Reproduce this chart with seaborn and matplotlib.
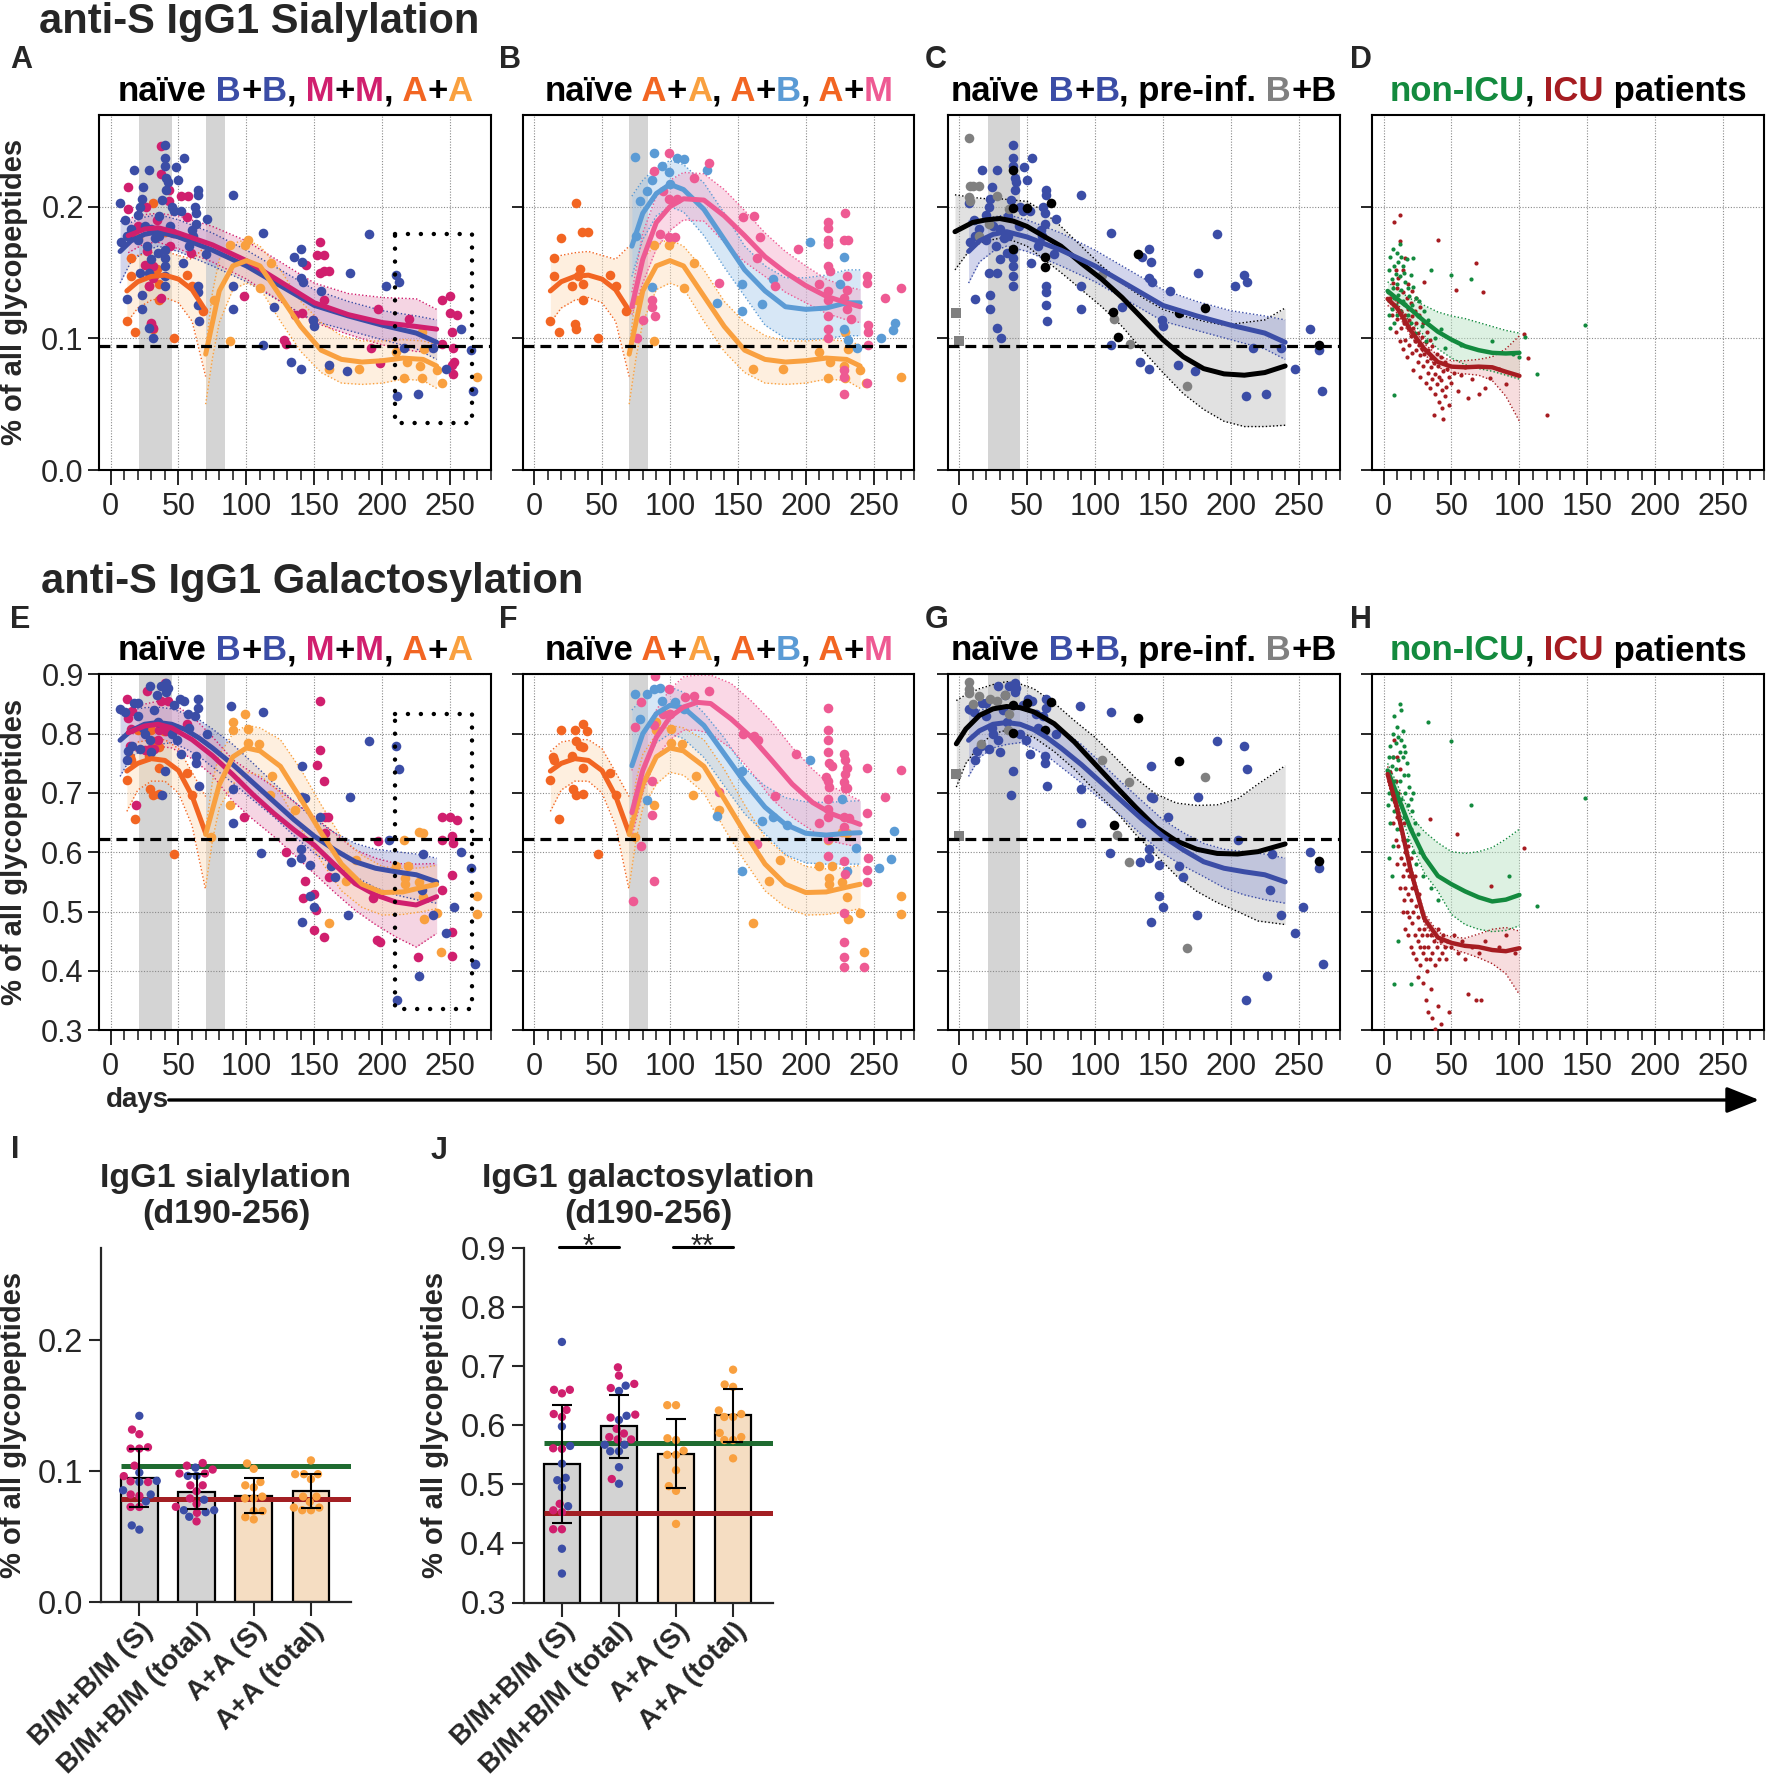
import matplotlib
matplotlib.use("Agg")
import matplotlib.pyplot as plt
import seaborn as sns
import pandas as pd
from matplotlib.offsetbox import TextArea, HPacker, AnnotationBbox
from matplotlib.patches import FancyArrowPatch
from matplotlib.ticker import MultipleLocator

# ---------------- data ----------------
DAY_TICKS = [0, 50, 100, 150, 200, 250]
SIA_TICKS = [0.0, 0.1, 0.2]
GAL_TICKS = [0.3, 0.4, 0.5, 0.6, 0.7, 0.8, 0.9]
SIA_REF = 0.094
GAL_REF = 0.6226
SHADE_AB = [(21, 45), (70, 84)]
SHADE_B = [(70, 84)]
SHADE_C = [(21, 45)]
BOX_DAYS = (209, 266)
BOX_SIA = (0.036, 0.179)
BOX_GAL = (0.336, 0.833)

# sialylation scatter (day, value)
SIA_BB = [(7, .203), (17, .228), (28, .228), (24, .215), (23, .206), (22, .2), (20, .194), (11, .19), (12, .178),
          (12, .13), (23, .133), (23, .122), (28, .108), (31, .1), (28, .15), (22, .15), (40, .247), (40, .237),
          (40, .231), (41, .222), (41, .213), (42, .219), (48, .23), (54, .237), (50, .22), (47, .197), (52, .197),
          (64, .213), (64, .209), (71, .191), (63, .195), (63, .187), (61, .178), (53, .157), (70, .164), (40, .167),
          (40, .161), (40, .155), (40, .147), (40, .14), (36, .178), (36, .193), (90, .209), (112, .18), (90, .122),
          (65, .113), (90, .14), (135, .162), (140, .168), (141, .158), (140, .146), (142, .143), (155, .136),
          (176, .15), (190, .179), (203, .14), (210, .148), (212, .143), (120, .124), (133, .082), (140, .077),
          (149, .114), (150, .109), (161, .08), (174, .075), (112, .095), (211, .056), (226, .058), (237, .093),
          (247, .077), (258, .107), (265, .091), (267, .06), (216, .093), (25, .185), (30, .183), (33, .176),
          (27, .17), (35, .165), (30, .16), (45, .2), (38, .205), (44, .185), (62, .2), (60, .182), (58, .17),
          (64, .14), (64, .135), (64, .125), (15, .183), (8, .173), (20, .175)]
SIA_MM = [(37, .246), (37, .225), (13, .215), (13, .198), (26, .2), (43, .213), (43, .204), (52, .208), (57, .208),
          (56, .192), (15, .18), (27, .166), (25, .156), (29, .156), (31, .155), (31, .146), (28, .14), (37, .131),
          (30, .112), (31, .108), (44, .17), (59, .165), (98, .132), (128, .099), (129, .096), (136, .118),
          (141, .119), (152, .163), (157, .163), (154, .173), (144, .156), (154, .15), (157, .151), (161, .151),
          (157, .129), (149, .114), (197, .122), (220, .115), (192, .093), (198, .081), (244, .129), (250, .132),
          (250, .119), (255, .118), (251, .105), (252, .093), (244, .096), (253, .082), (251, .08), (252, .073),
          (20, .185), (34, .19), (46, .18)]
SIA_AA1 = [(31, .203), (20, .176), (35, .181), (40, .181), (15, .161), (15, .147), (34, .153), (28, .14), (36, .141),
           (36, .129), (32, .147), (56, .148), (60, .14), (12, .113), (18, .105), (30, .111), (31, .107), (47, .1),
           (68, .121)]
SIA_AA2 = [(88, .098), (88, .171), (99, .171), (101, .175), (110, .138), (118, .157), (161, .077), (183, .077),
           (210, .09), (216, .07), (218, .082), (228, .079), (231, .092), (240, .076), (244, .066), (270, .071),
           (229, .07), (76, .129), (229, .105)]
SIA_AB = [(74, .238), (88, .241), (94, .231), (105, .237), (110, .236), (127, .228), (78, .204), (83, .212),
          (87, .22), (99, .226), (100, .217), (87, .139), (135, .127), (153, .141), (153, .121), (168, .126),
          (176, .145), (203, .173), (228, .162), (225, .141), (228, .107), (231, .099), (238, .093), (255, .1),
          (264, .106), (266, .112), (75, .178)]
SIA_AM = [(99, .241), (129, .233), (88, .227), (95, .212), (99, .206), (105, .206), (118, .222), (154, .192),
          (162, .193), (166, .177), (164, .161), (177, .14), (194, .168), (210, .141), (216, .188), (216, .184),
          (216, .175), (216, .172), (216, .155), (218, .151), (216, .136), (216, .129), (216, .117), (216, .107),
          (216, .1), (229, .195), (228, .175), (231, .175), (230, .147), (230, .137), (228, .131), (230, .122),
          (233, .115), (228, .076), (228, .071), (228, .058), (245, .147), (245, .142), (246, .105), (246, .11),
          (246, .095), (245, .066), (258, .131), (270, .138), (136, .142), (87, .129), (87, .124), (89, .117),
          (80, .114), (93, .179), (99, .177), (104, .177), (76, .1)]
SIA_PRE_GRAY = [(7, .252), (8, .216), (10, .216), (15, .216), (7, .207), (8, .204), (28, .208), (37, .198),
                (15, .178), (22, .187), (105, .148), (114, .115), (126, .096), (168, .064)]
SIA_PRE_SQ = [(-2, .119), (0, .098)]
SIA_PRE_BLACK = [(40, .228), (40, .199), (50, .199), (68, .203), (40, .168), (63, .162), (63, .154), (132, .164),
                 (113, .12), (117, .101), (162, .119), (181, .123), (265, .095)]
SIA_NONICU = [(3, .135), (4, .152), (4, .118), (5, .162), (5, .128), (5, .108), (6, .145), (6, .122), (7, .168),
              (7, .138), (8, .155), (8, .131), (8, .112), (9, .149), (9, .125), (10, .165), (10, .141), (10, .118),
              (11, .158), (11, .133), (12, .147), (12, .121), (12, .172), (13, .162), (13, .137), (14, .155),
              (14, .128), (15, .15), (15, .115), (16, .143), (16, .126), (17, .16), (18, .138), (18, .118),
              (19, .132), (20, .148), (20, .112), (21, .125), (22, .139), (22, .161), (23, .104), (24, .131),
              (25, .117), (26, .128), (28, .109), (30, .121), (31, .098), (33, .114), (35, .152), (38, .1),
              (42, .107), (45, .093), (50, .148), (57, .095), (64, .145), (80, .098), (95, .088), (100, .086),
              (104, .101), (113, .073), (148, .11), (8, .057)]
SIA_ICU = [(5, .131), (6, .118), (7, .142), (8, .188), (8, .125), (9, .105), (10, .138), (10, .115), (11, .128),
           (12, .194), (12, .174), (12, .098), (13, .121), (13, .108), (14, .135), (14, .092), (15, .126),
           (15, .112), (16, .099), (16, .118), (17, .131), (17, .086), (18, .108), (18, .122), (19, .095),
           (19, .114), (20, .127), (20, .102), (21, .089), (21, .117), (22, .108), (22, .076), (23, .098),
           (23, .121), (24, .091), (24, .112), (25, .104), (25, .082), (26, .095), (26, .118), (27, .087),
           (27, .071), (28, .101), (28, .092), (29, .079), (29, .112), (30, .143), (30, .088), (31, .097),
           (31, .066), (32, .083), (32, .105), (33, .091), (33, .074), (34, .062), (34, .099), (35, .085),
           (35, .078), (36, .069), (36, .094), (37, .042), (37, .081), (38, .073), (38, .058), (39, .088),
           (39, .065), (40, .175), (40, .079), (41, .052), (41, .071), (42, .068), (42, .086), (43, .061),
           (43, .047), (44, .039), (44, .075), (45, .082), (45, .056), (46, .063), (47, .077), (48, .071),
           (48, .049), (50, .066), (52, .074), (53, .137), (55, .06), (57, .072), (60, .078), (62, .055),
           (65, .069), (68, .157), (70, .058), (73, .135), (75, .062), (78, .07), (85, .077), (90, .065),
           (103, .103), (106, .085), (120, .042), (11, .146), (14, .152), (18, .141), (21, .136), (24, .131),
           (27, .124), (16, .161), (9, .152)]

# galactosylation scatter (day, value)
GAL_BB = [(7, .842), (11, .836), (17, .852), (20, .852), (29, .881), (34, .865), (37, .881), (41, .871), (41, .886),
          (42, .878), (47, .848), (51, .858), (54, .855), (64, .858), (64, .844), (62, .83), (57, .833), (49, .79),
          (71, .799), (63, .762), (63, .751), (52, .765), (40, .737), (65, .712), (38, .697), (24, .81), (25, .8),
          (29, .79), (22, .775), (30, .77), (13, .771), (12, .755), (16, .779), (89, .846), (112, .836), (90, .706),
          (90, .65), (111, .598), (133, .584), (141, .745), (141, .694), (143, .692), (140, .605), (140, .591),
          (147, .579), (147, .527), (150, .507), (141, .482), (154, .66), (162, .577), (165, .559), (175, .494),
          (176, .694), (190, .788), (205, .621), (210, .779), (212, .741), (211, .35), (227, .391), (230, .597),
          (247, .463), (253, .507), (258, .6), (265, .574), (268, .411), (237, .494), (229, .536), (35, .82),
          (45, .8), (20, .83), (32, .84), (58, .81)]
GAL_MM = [(12, .858), (13, .827), (16, .838), (27, .872), (37, .855), (42, .855), (40, .885), (36, .806), (35, .79),
          (25, .773), (29, .775), (32, .775), (56, .816), (15, .808), (14, .779), (19, .68), (41, .805), (154, .855),
          (154, .773), (152, .747), (157, .721), (158, .66), (160, .66), (158, .633), (98, .66), (129, .601),
          (143, .552), (142, .522), (150, .529), (151, .503), (150, .468), (157, .457), (161, .558), (193, .522),
          (196, .452), (198, .449), (197, .619), (226, .423), (244, .66), (250, .66), (255, .654), (244, .62),
          (251, .627), (252, .615), (251, .562), (244, .537), (251, .466), (251, .425)]
GAL_AA1 = [(20, .806), (30, .806), (36, .817), (39, .804), (31, .788), (34, .779), (36, .777), (14, .76), (15, .755),
           (28, .762), (36, .743), (12, .722), (29, .707), (31, .697), (36, .698), (18, .656), (56, .733), (60, .697),
           (47, .597)]
GAL_AA2 = [(101, .784), (109, .782), (88, .68), (117, .697), (119, .729), (74, .625), (161, .48), (173, .551),
           (181, .587), (210, .577), (217, .556), (217, .547), (227, .55), (230, .525), (231, .488), (240, .497),
           (243, .432), (270, .527), (270, .495), (219, .577), (99, .833), (90, .819), (90, .807), (101, .808),
           (136, .672), (216, .621), (227, .635), (230, .633)]
GAL_AB = [(74, .867), (83, .867), (88, .875), (93, .878), (78, .825), (94, .855), (104, .854), (110, .842),
          (83, .688), (153, .737), (135, .662), (168, .652), (176, .66), (186, .646), (203, .756), (153, .569),
          (227, .69), (237, .607), (230, .568), (254, .574), (263, .588), (265, .636)]
GAL_AM = [(89, .897), (79, .854), (99, .875), (111, .862), (118, .863), (129, .872), (88, .814), (95, .834),
          (100, .834), (74, .812), (154, .8), (162, .797), (165, .79), (193, .766), (177, .695), (136, .701),
          (87, .721), (87, .663), (88, .551), (79, .61), (73, .518), (164, .614), (216, .843), (216, .807),
          (216, .789), (216, .769), (217, .75), (219, .745), (215, .727), (216, .721), (217, .71), (216, .69),
          (216, .673), (216, .659), (210, .649), (216, .623), (216, .594), (228, .765), (229, .755), (230, .742),
          (229, .732), (228, .719), (229, .708), (230, .708), (228, .66), (232, .658), (228, .643), (228, .585),
          (229, .563), (228, .497), (228, .448), (228, .423), (228, .406), (245, .742), (245, .667), (246, .59),
          (245, .57), (245, .549), (258, .694), (270, .739), (243, .406)]
GAL_PRE_GRAY = [(7, .888), (7, .876), (7, .869), (15, .863), (10, .851), (23, .859), (28, .856), (34, .865),
                (37, .834), (36, .807), (16, .782), (105, .755), (125, .719), (116, .629), (125, .584), (181, .727),
                (168, .438)]
GAL_PRE_SQ = [(-2, .732), (0, .628)]
GAL_PRE_BLACK = [(40, .849), (50, .852), (68, .854), (40, .801), (63, .807), (132, .827), (114, .646), (162, .754),
                 (265, .586)]
GAL_NONICU = [(3, .735), (4, .76), (4, .7), (5, .78), (5, .72), (5, .65), (6, .745), (6, .69), (7, .8), (7, .76),
              (7, .61), (8, .83), (8, .72), (8, .67), (9, .785), (9, .74), (10, .812), (10, .7), (10, .64),
              (11, .795), (11, .755), (12, .85), (12, .77), (12, .72), (13, .84), (13, .79), (13, .69), (14, .805),
              (14, .76), (15, .78), (15, .73), (15, .66), (16, .77), (16, .7), (17, .75), (17, .62), (18, .73),
              (18, .68), (19, .71), (20, .69), (20, .64), (21, .67), (22, .7), (22, .6), (23, .65), (24, .58),
              (25, .63), (27, .6), (29, .56), (33, .82), (35, .54), (40, .52), (50, .787), (64, .68), (113, .51),
              (148, .691), (8, .377), (20, .377), (11, .45), (4, .59), (6, .56), (3, .68), (92, .56)]
GAL_ICU = [(5, .735), (6, .7), (7, .76), (7, .65), (8, .79), (8, .69), (9, .72), (9, .62), (10, .76), (10, .66),
           (10, .58), (11, .7), (11, .61), (12, .74), (12, .64), (12, .54), (13, .68), (13, .59), (14, .62),
           (14, .56), (14, .5), (15, .65), (15, .58), (15, .52), (16, .6), (16, .54), (16, .47), (17, .57), (17, .5),
           (18, .61), (18, .53), (18, .46), (19, .56), (19, .49), (20, .59), (20, .52), (20, .44), (21, .54),
           (21, .48), (22, .5), (22, .43), (23, .56), (23, .46), (24, .51), (24, .42), (25, .49), (25, .45),
           (25, .39), (26, .53), (26, .47), (27, .44), (27, .41), (28, .5), (28, .46), (29, .43), (29, .38),
           (30, .47), (30, .44), (31, .42), (31, .35), (32, .46), (32, .4), (33, .44), (33, .33), (34, .656),
           (34, .42), (35, .46), (35, .37), (36, .43), (36, .32), (37, .45), (38, .41), (38, .302), (39, .44),
           (40, .47), (40, .34), (41, .42), (42, .45), (42, .31), (43, .43), (44, .46), (45, .44), (46, .42),
           (47, .45), (48, .33), (50, .44), (52, .46), (54, .63), (55, .43), (58, .45), (60, .42), (62, .36),
           (65, .44), (68, .351), (70, .43), (72, .35), (75, .45), (79, .543), (85, .44), (90, .46), (97, .43),
           (103, .607)]

# fitted curves: days, fit, lower, upper
SIA_BB_DAYS = [7, 15, 25, 35, 50, 75, 100, 125, 150, 175, 200, 225, 240]
SIA_BB_FIT = [0.166, 0.174, 0.179, 0.181, 0.177, 0.167, 0.155, 0.140, 0.125, 0.117, 0.110, 0.104, 0.097]
SIA_BB_LO = [0.142, 0.158, 0.166, 0.170, 0.166, 0.155, 0.143, 0.128, 0.113, 0.106, 0.099, 0.092, 0.084]
SIA_BB_HI = [0.189, 0.188, 0.192, 0.194, 0.190, 0.180, 0.167, 0.152, 0.137, 0.128, 0.121, 0.117, 0.114]
SIA_MM_DAYS = [13, 25, 35, 50, 75, 100, 125, 150, 175, 200, 225, 240]
SIA_MM_FIT = [0.178, 0.183, 0.184, 0.180, 0.171, 0.159, 0.143, 0.127, 0.118, 0.112, 0.109, 0.107]
SIA_MM_LO = [0.165, 0.172, 0.173, 0.168, 0.158, 0.145, 0.128, 0.112, 0.103, 0.095, 0.090, 0.090]
SIA_MM_HI = [0.191, 0.194, 0.195, 0.193, 0.185, 0.174, 0.158, 0.142, 0.134, 0.131, 0.130, 0.122]
SIA_AA1_DAYS = [12, 20, 30, 40, 50, 60, 70]
SIA_AA1_FIT = [0.136, 0.143, 0.147, 0.148, 0.145, 0.137, 0.121]
SIA_AA1_LO = [0.112, 0.123, 0.129, 0.131, 0.127, 0.113, 0.071]
SIA_AA1_HI = [0.160, 0.163, 0.165, 0.166, 0.163, 0.160, 0.170]
SIA_AA2_DAYS = [70, 75, 80, 90, 100, 110, 125, 140, 155, 170, 185, 200, 215, 230, 240]
SIA_AA2_FIT = [0.088, 0.112, 0.136, 0.155, 0.159, 0.155, 0.132, 0.109, 0.091, 0.084, 0.082, 0.083, 0.085, 0.084, 0.079]
SIA_AA2_LO = [0.050, 0.085, 0.112, 0.137, 0.142, 0.138, 0.113, 0.090, 0.074, 0.066, 0.065, 0.066, 0.069, 0.068, 0.062]
SIA_AA2_HI = [0.092, 0.135, 0.160, 0.172, 0.175, 0.170, 0.152, 0.128, 0.112, 0.102, 0.098, 0.098, 0.099, 0.098, 0.095]
SIA_AB_DAYS = [72, 80, 90, 100, 110, 125, 140, 155, 170, 185, 200, 215, 230, 240]
SIA_AB_FIT = [0.170, 0.195, 0.210, 0.217, 0.213, 0.198, 0.175, 0.152, 0.136, 0.124, 0.122, 0.123, 0.127, 0.127]
SIA_AB_LO = [0.147, 0.175, 0.193, 0.200, 0.196, 0.178, 0.154, 0.132, 0.110, 0.100, 0.099, 0.100, 0.102, 0.102]
SIA_AB_HI = [0.208, 0.220, 0.230, 0.235, 0.232, 0.218, 0.195, 0.170, 0.155, 0.146, 0.146, 0.148, 0.152, 0.152]
SIA_AM_DAYS = [72, 80, 90, 100, 110, 125, 140, 155, 170, 185, 200, 215, 230, 240]
SIA_AM_FIT = [0.124, 0.160, 0.188, 0.200, 0.206, 0.205, 0.193, 0.178, 0.162, 0.150, 0.140, 0.132, 0.127, 0.124]
SIA_AM_LO = [0.118, 0.142, 0.168, 0.182, 0.190, 0.189, 0.173, 0.158, 0.147, 0.135, 0.127, 0.119, 0.114, 0.112]
SIA_AM_HI = [0.135, 0.180, 0.208, 0.220, 0.226, 0.225, 0.213, 0.197, 0.180, 0.166, 0.155, 0.145, 0.139, 0.137]
SIA_PRE_DAYS = [-3, 10, 20, 30, 40, 50, 60, 75, 90, 105, 120, 135, 150, 165, 180, 195, 210, 225, 240]
SIA_PRE_FIT = [0.181, 0.188, 0.190, 0.191, 0.189, 0.185, 0.179, 0.170, 0.157, 0.145, 0.131, 0.115, 0.099, 0.086,
               0.077, 0.073, 0.072, 0.074, 0.079]
SIA_PRE_LO = [0.152, 0.170, 0.174, 0.176, 0.174, 0.170, 0.162, 0.150, 0.137, 0.124, 0.109, 0.091, 0.074, 0.058,
              0.046, 0.037, 0.033, 0.033, 0.034]
SIA_PRE_HI = [0.209, 0.207, 0.206, 0.206, 0.205, 0.204, 0.198, 0.185, 0.170, 0.155, 0.142, 0.131, 0.122, 0.117,
              0.113, 0.110, 0.112, 0.114, 0.123]
PAT_DAYS = [3, 10, 20, 30, 40, 50, 60, 70, 80, 90, 100]
SIA_NONICU_FIT = [0.136, 0.130, 0.122, 0.113, 0.105, 0.099, 0.094, 0.091, 0.089, 0.0885, 0.089]
SIA_NONICU_LO = [0.128, 0.122, 0.113, 0.102, 0.092, 0.085, 0.080, 0.077, 0.075, 0.072, 0.069]
SIA_NONICU_HI = [0.143, 0.137, 0.130, 0.125, 0.120, 0.117, 0.115, 0.112, 0.109, 0.106, 0.104]
SIA_ICU_FIT = [0.130, 0.123, 0.106, 0.092, 0.082, 0.0785, 0.078, 0.0785, 0.078, 0.0746, 0.0715]
SIA_ICU_LO = [0.125, 0.119, 0.102, 0.088, 0.078, 0.074, 0.073, 0.072, 0.068, 0.056, 0.037]
SIA_ICU_HI = [0.135, 0.127, 0.110, 0.096, 0.087, 0.083, 0.083, 0.084, 0.086, 0.092, 0.102]

GAL_BB_DAYS = [7, 15, 25, 35, 45, 55, 65, 75, 90, 105, 120, 135, 150, 165, 180, 195, 210, 225, 240]
GAL_BB_FIT = [0.789, 0.805, 0.816, 0.819, 0.816, 0.807, 0.793, 0.776, 0.748, 0.717, 0.686, 0.655, 0.627, 0.604,
              0.584, 0.573, 0.567, 0.562, 0.550]
GAL_BB_LO = [0.728, 0.760, 0.776, 0.782, 0.785, 0.775, 0.762, 0.744, 0.717, 0.688, 0.660, 0.628, 0.598, 0.577,
             0.559, 0.540, 0.528, 0.520, 0.514]
GAL_BB_HI = [0.833, 0.840, 0.844, 0.845, 0.842, 0.834, 0.824, 0.808, 0.782, 0.750, 0.717, 0.686, 0.655, 0.633,
             0.615, 0.605, 0.601, 0.597, 0.590]
GAL_MM_DAYS = [13, 25, 35, 45, 60, 75, 90, 105, 120, 135, 150, 165, 180, 195, 210, 225, 240]
GAL_MM_FIT = [0.802, 0.813, 0.816, 0.810, 0.790, 0.763, 0.731, 0.697, 0.666, 0.638, 0.612, 0.579, 0.547, 0.528,
              0.516, 0.511, 0.525]
GAL_MM_LO = [0.768, 0.775, 0.779, 0.776, 0.758, 0.730, 0.686, 0.655, 0.627, 0.596, 0.564, 0.532, 0.502, 0.478,
             0.457, 0.440, 0.463]
GAL_MM_HI = [0.841, 0.850, 0.855, 0.852, 0.830, 0.795, 0.756, 0.733, 0.711, 0.685, 0.660, 0.632, 0.604, 0.590,
             0.581, 0.580, 0.581]
GAL_AA1_DAYS = [12, 20, 30, 40, 50, 60, 70]
GAL_AA1_FIT = [0.737, 0.750, 0.758, 0.755, 0.738, 0.695, 0.632]
GAL_AA1_LO = [0.669, 0.705, 0.720, 0.720, 0.700, 0.645, 0.536]
GAL_AA1_HI = [0.770, 0.786, 0.790, 0.790, 0.775, 0.735, 0.694]
GAL_AA2_DAYS = [70, 75, 80, 90, 100, 110, 125, 140, 155, 170, 185, 200, 215, 230, 240]
GAL_AA2_FIT = [0.630, 0.672, 0.714, 0.761, 0.776, 0.771, 0.745, 0.690, 0.633, 0.580, 0.546, 0.532, 0.533, 0.541, 0.546]
GAL_AA2_LO = [0.542, 0.620, 0.675, 0.715, 0.735, 0.730, 0.700, 0.640, 0.585, 0.535, 0.507, 0.494, 0.495, 0.500, 0.505]
GAL_AA2_HI = [0.638, 0.720, 0.765, 0.800, 0.814, 0.810, 0.790, 0.740, 0.680, 0.625, 0.595, 0.576, 0.572, 0.574, 0.578]
GAL_AB_DAYS = [72, 80, 90, 100, 110, 125, 140, 155, 170, 185, 200, 215, 230, 240]
GAL_AB_FIT = [0.746, 0.800, 0.834, 0.848, 0.844, 0.814, 0.766, 0.718, 0.676, 0.647, 0.632, 0.629, 0.632, 0.633]
GAL_AB_LO = [0.670, 0.740, 0.785, 0.800, 0.792, 0.760, 0.712, 0.665, 0.631, 0.596, 0.582, 0.580, 0.580, 0.580]
GAL_AB_HI = [0.840, 0.860, 0.875, 0.879, 0.870, 0.835, 0.793, 0.742, 0.712, 0.692, 0.685, 0.684, 0.686, 0.687]
GAL_AM_DAYS = [72, 80, 90, 100, 110, 120, 130, 145, 160, 175, 190, 205, 220, 240]
GAL_AM_FIT = [0.667, 0.738, 0.794, 0.828, 0.845, 0.853, 0.851, 0.825, 0.794, 0.755, 0.715, 0.684, 0.664, 0.647]
GAL_AM_LO = [0.625, 0.700, 0.760, 0.790, 0.806, 0.806, 0.800, 0.775, 0.735, 0.690, 0.659, 0.636, 0.618, 0.608]
GAL_AM_HI = [0.738, 0.800, 0.840, 0.875, 0.896, 0.899, 0.899, 0.885, 0.855, 0.820, 0.777, 0.740, 0.710, 0.687]
GAL_PRE_DAYS = [-2, 5, 15, 25, 35, 45, 55, 70, 85, 100, 115, 130, 145, 160, 175, 190, 205, 220, 240]
GAL_PRE_FIT = [0.783, 0.808, 0.831, 0.842, 0.846, 0.844, 0.837, 0.817, 0.786, 0.749, 0.712, 0.676, 0.642, 0.619,
               0.605, 0.598, 0.597, 0.601, 0.614]
GAL_PRE_LO = [0.710, 0.750, 0.780, 0.800, 0.806, 0.802, 0.794, 0.770, 0.740, 0.704, 0.670, 0.630, 0.595, 0.560,
              0.534, 0.515, 0.500, 0.484, 0.478]
GAL_PRE_HI = [0.856, 0.866, 0.876, 0.883, 0.888, 0.884, 0.876, 0.852, 0.822, 0.794, 0.760, 0.725, 0.698, 0.683,
              0.679, 0.680, 0.690, 0.715, 0.746]
GAL_NONICU_FIT = [0.738, 0.697, 0.639, 0.592, 0.560, 0.546, 0.534, 0.524, 0.517, 0.520, 0.528]
GAL_NONICU_LO = [0.725, 0.680, 0.616, 0.565, 0.534, 0.495, 0.478, 0.470, 0.466, 0.468, 0.476]
GAL_NONICU_HI = [0.750, 0.715, 0.662, 0.635, 0.616, 0.601, 0.598, 0.601, 0.608, 0.622, 0.639]
GAL_ICU_FIT = [0.732, 0.674, 0.569, 0.488, 0.456, 0.447, 0.442, 0.440, 0.435, 0.433, 0.438]
GAL_ICU_LO = [0.720, 0.662, 0.560, 0.479, 0.447, 0.437, 0.430, 0.422, 0.412, 0.395, 0.360]
GAL_ICU_HI = [0.745, 0.686, 0.578, 0.497, 0.465, 0.457, 0.455, 0.462, 0.470, 0.473, 0.467]

# late window bar charts (d190-256)
GROUPS = ["B/M+B/M (S)", "B/M+B/M (total)", "A+A (S)", "A+A (total)"]
I_MEANS = [0.0946, 0.0842, 0.0811, 0.0849]
I_SD = [0.022, 0.0135, 0.0134, 0.013]
I_S_BLUE = [0.142, 0.0987, 0.0924, 0.0915, 0.0852, 0.082, 0.0767, 0.0584, 0.0552]
I_S_MAG = [0.1315, 0.128, 0.118, 0.117, 0.117, 0.104, 0.096, 0.0915, 0.092, 0.082, 0.081, 0.0725, 0.0725]
I_T_BLUE = [0.1025, 0.0962, 0.0962, 0.078, 0.07, 0.07, 0.0685, 0.065]
I_T_MAG = [0.106, 0.104, 0.101, 0.098, 0.098, 0.089, 0.089, 0.0845, 0.079, 0.0748, 0.0726, 0.068, 0.0615]
I_AS = [0.1057, 0.1016, 0.0915, 0.089, 0.0874, 0.0804, 0.079, 0.079, 0.0694, 0.0694, 0.0647, 0.063]
I_AT = [0.108, 0.0975, 0.0975, 0.0975, 0.0937, 0.0804, 0.0804, 0.0763, 0.072, 0.072, 0.07, 0.07]
I_NONICU, I_ICU = 0.1038, 0.0785
J_MEANS = [0.535, 0.598, 0.552, 0.617]
J_SD = [0.10, 0.054, 0.059, 0.045]
J_S_BLUE = [0.741, 0.598, 0.565, 0.535, 0.511, 0.507, 0.495, 0.463, 0.391, 0.349]
J_S_MAG = [0.66, 0.66, 0.654, 0.626, 0.619, 0.614, 0.561, 0.56, 0.467, 0.456, 0.453, 0.424, 0.424]
J_T_BLUE = [0.667, 0.658, 0.616, 0.609, 0.567, 0.567, 0.556, 0.556, 0.529, 0.501]
J_T_MAG = [0.698, 0.684, 0.67, 0.663, 0.618, 0.613, 0.594, 0.586, 0.58, 0.576, 0.576, 0.509]
J_AS = [0.634, 0.634, 0.578, 0.575, 0.557, 0.55, 0.55, 0.524, 0.497, 0.489, 0.433]
J_AT = [0.694, 0.669, 0.665, 0.625, 0.619, 0.614, 0.614, 0.587, 0.58, 0.575, 0.575, 0.544]
J_NONICU, J_ICU = 0.5705, 0.452
J_SIG = [((0, 1), "*"), ((2, 3), "**")]

# ---------------- style ----------------
K = "black"
BLUE, BLUE_BAND = "#3B4DA6", "#9CA3D6"
MAG, MAG_BAND = "#D01F6E", "#EBA3C3"
OR1, OR2, OR_BAND = "#F26522", "#F9A03F", "#FDDDB9"
LBLUE, LBLUE_BAND = "#5B9BD5", "#A7CBEC"
PINK, PINK_BAND = "#EE5A93", "#F4A9C8"
GRAY, PRE_BAND = "#808080", "#BDBDBD"
GREEN, GREEN_BAND = "#138A3E", "#B5E0BF"
RED, RED_BAND = "#A61C21", "#EFB4B6"
SHADE = "#D4D4D4"
BAR_COLORS = ["#D3D3D3", "#D3D3D3", "#FDDDBA", "#FDDDBA"]

sns.set_style("ticks")
plt.rcParams["font.family"] = ["Liberation Sans", "DejaVu Sans"]

W, H = 1766, 1782
fig = plt.figure(figsize=(W / 100, H / 100), dpi=100)


def add_ax(left, top, width, height):
    return fig.add_axes([left / W, 1 - (top + height) / H, width / W, height / H])


def dots(ax, pts, color, size=48, marker="o"):
    xs = [p[0] for p in pts]
    ys = [p[1] for p in pts]
    sns.scatterplot(x=xs, y=ys, color=color, s=size, marker=marker, linewidth=0, ax=ax, zorder=3)


def fit(ax, days, mid, lo, hi, color, band, lw=3.6):
    ax.fill_between(days, lo, hi, color=band, alpha=0.45, lw=0, zorder=1)
    for edge in (lo, hi):
        ax.plot(days, edge, color=color, lw=1.0, ls=(0, (1, 1.6)), zorder=1.5)
    sns.lineplot(x=days, y=mid, color=color, lw=lw, estimator=None, sort=False, ax=ax, zorder=4)


def time_axes(ax, ylim, yticks, labels, shades, ref=None):
    ax.set_xlim(-8.5, 280)
    ax.set_ylim(*ylim)
    ax.set_xticks(DAY_TICKS)
    ax.set_xticklabels([str(d) for d in DAY_TICKS])
    ax.xaxis.set_minor_locator(MultipleLocator(10))
    ax.set_yticks(yticks)
    ax.set_yticklabels([f"{t:.1f}" for t in yticks] if labels else [])
    ax.grid(True, which="major", color="#8a8a8a", lw=0.8, ls=(0, (1, 1.5)))
    ax.set_axisbelow(True)
    for s in ax.spines.values():
        s.set_visible(True)
        s.set_linewidth(1.5)
        s.set_color(K)
    ax.tick_params(axis="x", which="major", length=11, width=1.4, pad=5, labelsize=22, bottom=True)
    ax.tick_params(axis="x", which="minor", length=7, width=1.2, bottom=True)
    ax.tick_params(axis="y", which="major", length=8, width=1.4, pad=3, labelsize=22, left=True)
    for a, b in shades:
        ax.axvspan(a, b, color=SHADE, lw=0, zorder=0.2)
    if ref is not None:
        ax.axhline(ref, color=K, lw=2.3, ls=(0, (3.4, 1.9)), zorder=5)
    if labels:
        ax.set_ylabel("% of all glycopeptides", fontsize=21, fontweight="bold")
        ax.yaxis.set_label_coords(-0.181, 0.5)


def dotted_box(ax, days, vals):
    xs = [days[0], days[1], days[1], days[0], days[0]]
    ys = [vals[1], vals[1], vals[0], vals[0], vals[1]]
    ax.plot(xs, ys, color=K, lw=3.2, ls=(0, (0.01, 2.9)), dash_capstyle="round", zorder=6)


def color_text(x_px, base_px, parts, size=25):
    boxes = [TextArea(s, textprops=dict(color=c, fontsize=size, fontweight="bold")) for s, c in parts]
    pack = HPacker(children=boxes, align="baseline", pad=0, sep=0)
    ab = AnnotationBbox(pack, (x_px / W, 1 - (base_px + 5) / H), xycoords="figure fraction",
                        box_alignment=(0.5, 0.0), frameon=False, pad=0, annotation_clip=False)
    fig.add_artist(ab)


def bar_panel(ax, means, sds, sets, ylim, yticks, green, red, label_x):
    bars = pd.DataFrame({"group": GROUPS, "mean": means})
    sns.barplot(data=bars, x="group", y="mean", hue="group", palette=BAR_COLORS, legend=False,
                width=0.64, edgecolor=K, linewidth=1.6, ax=ax, zorder=1)
    rows = []
    for group, vals, kind in sets:
        rows += [(group, v, kind) for v in vals]
    pts = pd.DataFrame(rows, columns=["group", "value", "kind"])
    sns.swarmplot(data=pts, x="group", y="value", hue="kind", order=GROUPS,
                  palette={"b": BLUE, "m": MAG, "o": OR2}, size=6.0, linewidth=0,
                  legend=False, ax=ax, zorder=3)
    ax.errorbar(range(len(GROUPS)), means, yerr=sds, fmt="none", ecolor=K, elinewidth=1.5,
                capsize=7, capthick=1.5, zorder=4)
    ax.hlines([green, red], -0.32, 3.7, colors=["#1F6B30", "#A31F23"], lw=3.6, zorder=2)
    ax.set_xlim(-0.67, 3.7)
    ax.set_ylim(*ylim)
    ax.set_yticks(yticks)
    ax.set_yticklabels([f"{t:.1f}" for t in yticks])
    ax.set_xlabel("")
    ax.set_ylabel("% of all glycopeptides", fontsize=21, fontweight="bold")
    ax.yaxis.set_label_coords(label_x, 0.5)
    sns.despine(ax=ax)
    for s in ("left", "bottom"):
        ax.spines[s].set_linewidth(1.6)
    ax.tick_params(axis="y", length=9, width=1.5, pad=4, labelsize=23.5)
    ax.tick_params(axis="x", length=10, width=1.5, pad=1, labelsize=20)
    for t in ax.get_xticklabels():
        t.set_rotation(45)
        t.set_ha("right")
        t.set_rotation_mode("anchor")
        t.set_fontweight("bold")


# ---------------- row 1: sialylation ----------------
TOP1, TOP2, PH, PW = 114.5, 674.5, 355.5, 392
LEFTS = [99, 522.5, 947.5, 1372]

axA = add_ax(LEFTS[0], TOP1, PW, PH)
time_axes(axA, (0, 0.27), SIA_TICKS, True, SHADE_AB, SIA_REF)
fit(axA, SIA_BB_DAYS, SIA_BB_FIT, SIA_BB_LO, SIA_BB_HI, BLUE, BLUE_BAND)
fit(axA, SIA_MM_DAYS, SIA_MM_FIT, SIA_MM_LO, SIA_MM_HI, MAG, MAG_BAND)
fit(axA, SIA_AA1_DAYS, SIA_AA1_FIT, SIA_AA1_LO, SIA_AA1_HI, OR1, OR_BAND)
fit(axA, SIA_AA2_DAYS, SIA_AA2_FIT, SIA_AA2_LO, SIA_AA2_HI, OR2, OR_BAND)
dots(axA, SIA_AA1, OR1)
dots(axA, SIA_AA2, OR2)
dots(axA, SIA_MM, MAG)
dots(axA, SIA_BB, BLUE)
dotted_box(axA, BOX_DAYS, BOX_SIA)

axB = add_ax(LEFTS[1], TOP1, PW, PH)
time_axes(axB, (0, 0.27), SIA_TICKS, False, SHADE_B, SIA_REF)
fit(axB, SIA_AA1_DAYS, SIA_AA1_FIT, SIA_AA1_LO, SIA_AA1_HI, OR1, OR_BAND)
fit(axB, SIA_AA2_DAYS, SIA_AA2_FIT, SIA_AA2_LO, SIA_AA2_HI, OR2, OR_BAND)
fit(axB, SIA_AB_DAYS, SIA_AB_FIT, SIA_AB_LO, SIA_AB_HI, LBLUE, LBLUE_BAND)
fit(axB, SIA_AM_DAYS, SIA_AM_FIT, SIA_AM_LO, SIA_AM_HI, PINK, PINK_BAND)
dots(axB, SIA_AA1, OR1)
dots(axB, SIA_AA2, OR2)
dots(axB, SIA_AB, LBLUE)
dots(axB, SIA_AM, PINK)

axC = add_ax(LEFTS[2], TOP1, PW, PH)
time_axes(axC, (0, 0.27), SIA_TICKS, False, SHADE_C, SIA_REF)
fit(axC, SIA_PRE_DAYS, SIA_PRE_FIT, SIA_PRE_LO, SIA_PRE_HI, K, PRE_BAND)
fit(axC, SIA_BB_DAYS, SIA_BB_FIT, SIA_BB_LO, SIA_BB_HI, BLUE, BLUE_BAND)
dots(axC, SIA_BB, BLUE)
dots(axC, SIA_PRE_GRAY, GRAY)
dots(axC, SIA_PRE_SQ, GRAY, marker="s")
dots(axC, SIA_PRE_BLACK, K)

axD = add_ax(LEFTS[3], TOP1, PW, PH)
time_axes(axD, (0, 0.27), SIA_TICKS, False, [])
dots(axD, SIA_ICU, RED, size=9)
dots(axD, SIA_NONICU, GREEN, size=9)
fit(axD, PAT_DAYS, SIA_NONICU_FIT, SIA_NONICU_LO, SIA_NONICU_HI, GREEN, GREEN_BAND, lw=3.2)
fit(axD, PAT_DAYS, SIA_ICU_FIT, SIA_ICU_LO, SIA_ICU_HI, RED, RED_BAND, lw=3.2)

# ---------------- row 2: galactosylation ----------------
axE = add_ax(LEFTS[0], TOP2, PW, PH)
time_axes(axE, (0.3, 0.9), GAL_TICKS, True, SHADE_AB, GAL_REF)
fit(axE, GAL_BB_DAYS, GAL_BB_FIT, GAL_BB_LO, GAL_BB_HI, BLUE, BLUE_BAND)
fit(axE, GAL_MM_DAYS, GAL_MM_FIT, GAL_MM_LO, GAL_MM_HI, MAG, MAG_BAND)
fit(axE, GAL_AA1_DAYS, GAL_AA1_FIT, GAL_AA1_LO, GAL_AA1_HI, OR1, OR_BAND)
fit(axE, GAL_AA2_DAYS, GAL_AA2_FIT, GAL_AA2_LO, GAL_AA2_HI, OR2, OR_BAND)
dots(axE, GAL_AA1, OR1)
dots(axE, GAL_AA2, OR2)
dots(axE, GAL_MM, MAG)
dots(axE, GAL_BB, BLUE)
dotted_box(axE, BOX_DAYS, BOX_GAL)

axF = add_ax(LEFTS[1], TOP2, PW, PH)
time_axes(axF, (0.3, 0.9), GAL_TICKS, False, SHADE_B, GAL_REF)
fit(axF, GAL_AA1_DAYS, GAL_AA1_FIT, GAL_AA1_LO, GAL_AA1_HI, OR1, OR_BAND)
fit(axF, GAL_AA2_DAYS, GAL_AA2_FIT, GAL_AA2_LO, GAL_AA2_HI, OR2, OR_BAND)
fit(axF, GAL_AB_DAYS, GAL_AB_FIT, GAL_AB_LO, GAL_AB_HI, LBLUE, LBLUE_BAND)
fit(axF, GAL_AM_DAYS, GAL_AM_FIT, GAL_AM_LO, GAL_AM_HI, PINK, PINK_BAND)
dots(axF, GAL_AA1, OR1)
dots(axF, GAL_AA2, OR2)
dots(axF, GAL_AB, LBLUE)
dots(axF, GAL_AM, PINK)

axG = add_ax(LEFTS[2], TOP2, PW, PH)
time_axes(axG, (0.3, 0.9), GAL_TICKS, False, SHADE_C, GAL_REF)
fit(axG, GAL_PRE_DAYS, GAL_PRE_FIT, GAL_PRE_LO, GAL_PRE_HI, K, PRE_BAND)
fit(axG, GAL_BB_DAYS, GAL_BB_FIT, GAL_BB_LO, GAL_BB_HI, BLUE, BLUE_BAND)
dots(axG, GAL_BB, BLUE)
dots(axG, GAL_PRE_GRAY, GRAY)
dots(axG, GAL_PRE_SQ, GRAY, marker="s")
dots(axG, GAL_PRE_BLACK, K)

axH = add_ax(LEFTS[3], TOP2, PW, PH)
time_axes(axH, (0.3, 0.9), GAL_TICKS, False, [])
dots(axH, GAL_ICU, RED, size=9)
dots(axH, GAL_NONICU, GREEN, size=9)
fit(axH, PAT_DAYS, GAL_NONICU_FIT, GAL_NONICU_LO, GAL_NONICU_HI, GREEN, GREEN_BAND, lw=3.2)
fit(axH, PAT_DAYS, GAL_ICU_FIT, GAL_ICU_LO, GAL_ICU_HI, RED, RED_BAND, lw=3.2)

# ---------------- titles / subtitles ----------------
fig.text(39 / W, 1 - 33 / H, "anti-S IgG1 Sialylation", fontsize=30, fontweight="bold")
fig.text(41 / W, 1 - 593 / H, "anti-S IgG1 Galactosylation", fontsize=30, fontweight="bold")
for letter, x, y in [("A", 10, 68), ("B", 499, 68), ("C", 925, 68), ("D", 1350, 68),
                     ("E", 10, 628), ("F", 499, 628), ("G", 925, 628), ("H", 1350, 628),
                     ("I", 11, 1158), ("J", 431, 1159)]:
    fig.text(x / W, 1 - y / H, letter, fontsize=22, fontweight="bold")

SUB_A = [("naïve", K), (" B", BLUE), ("+", K), ("B", BLUE), (",", K), (" M", MAG), ("+", K), ("M", MAG),
         (",", K), (" A", OR1), ("+", K), ("A", OR2)]
SUB_B = [("naïve", K), (" A", OR1), ("+", K), ("A", OR2), (",", K), (" A", OR1), ("+", K), ("B", LBLUE),
         (",", K), (" A", OR1), ("+", K), ("M", PINK)]
SUB_C = [("naïve", K), (" B", BLUE), ("+", K), ("B", BLUE), (", pre-inf.", K), (" B", GRAY), ("+B", K)]
SUB_D = [("non-ICU", GREEN), (",", K), (" ICU", RED), (" patients", K)]
for left, parts in zip(LEFTS, [SUB_A, SUB_B, SUB_C, SUB_D]):
    color_text(left + PW / 2, 103, parts)
    color_text(left + PW / 2, 662.5, parts)

# days arrow
fig.text(106 / W, 1 - 1100 / H, "days", fontsize=20, fontweight="bold", va="center")
arrow = FancyArrowPatch((166 / W, 1 - 1100 / H), (1762 / W, 1 - 1100 / H), transform=fig.transFigure,
                        arrowstyle="-|>,head_length=1.0,head_width=0.4", mutation_scale=20, lw=2.4, color=K)
fig.patches.append(arrow)

# ---------------- row 3: bar panels ----------------
axI = add_ax(101, 1248, 250, 354)
bar_panel(axI, I_MEANS, I_SD,
          [(GROUPS[0], I_S_BLUE, "b"), (GROUPS[0], I_S_MAG, "m"), (GROUPS[1], I_T_BLUE, "b"),
           (GROUPS[1], I_T_MAG, "m"), (GROUPS[2], I_AS, "o"), (GROUPS[3], I_AT, "o")],
          (0, 0.27), SIA_TICKS, I_NONICU, I_ICU, -0.296)
axI.set_title("IgG1 sialylation\n(d190-256)", fontsize=24.5, fontweight="bold", pad=18, linespacing=1.2)

axJ = add_ax(523.7, 1248, 249.3, 354.5)
bar_panel(axJ, J_MEANS, J_SD,
          [(GROUPS[0], J_S_BLUE, "b"), (GROUPS[0], J_S_MAG, "m"), (GROUPS[1], J_T_BLUE, "b"),
           (GROUPS[1], J_T_MAG, "m"), (GROUPS[2], J_AS, "o"), (GROUPS[3], J_AT, "o")],
          (0.3, 0.9), GAL_TICKS, J_NONICU, J_ICU, -0.30)
axJ.set_title("IgG1 galactosylation\n(d190-256)", fontsize=24.5, fontweight="bold", pad=18, linespacing=1.2)
for (a, b), star in J_SIG:
    axJ.plot([a - 0.05, b], [0.902, 0.902], color=K, lw=2.2, clip_on=False, zorder=5)
    axJ.text((a + b) / 2 - 0.03, 0.887, star, ha="center", va="baseline", fontsize=22, clip_on=False, zorder=6)

fig.savefig("out.png", dpi=100)
